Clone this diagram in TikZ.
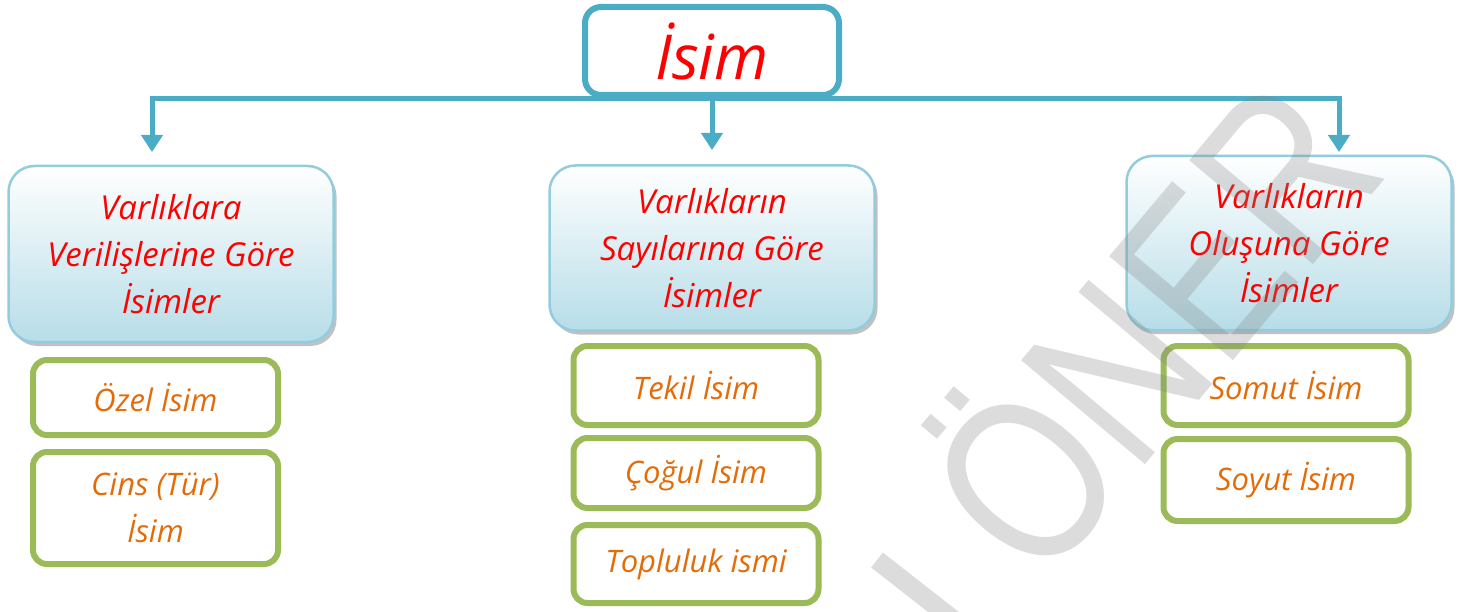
\documentclass[tikz,border=0pt]{standalone}
\usepackage{fontspec}
\setmainfont{Open Sans}
\newfontfamily\wmfont[FakeStretch=0.8]{Liberation Sans}
\usetikzlibrary{arrows.meta,shadows}
\definecolor{cblue}{HTML}{4BACC6}
\definecolor{catline}{HTML}{93CDDD}
\definecolor{catbot}{HTML}{B7DDE8}
\definecolor{igreen}{HTML}{9BBB59}
\definecolor{iorange}{HTML}{E36C09}
\definecolor{hred}{HTML}{FF0000}
\definecolor{wmgray}{HTML}{808080}
\begin{document}
\begin{tikzpicture}[x=1pt,y=-1pt,
  topbox/.style={draw=cblue, line width=6pt, rounded corners=16pt, fill=white,
    minimum width=254pt, minimum height=88pt, text=hred,
    font=\fontsize{62}{66}\selectfont\itshape},
  catbox/.style={draw=catline, line width=2.5pt, rounded corners=26pt,
    top color=white, bottom color=catbot, minimum width=325pt, align=center,
    drop shadow={shadow xshift=3pt, shadow yshift=-4pt, fill=black!40, opacity=.6},
    text=hred, font=\fontsize{33}{47}\selectfont\itshape},
  itembox/.style={draw=igreen, line width=6pt, rounded corners=14pt, fill=white,
    minimum width=245pt, align=center, text=iorange,
    font=\fontsize{31}{47}\selectfont\itshape},
  arr/.style={draw=cblue, line width=5pt, -{Triangle[width=21pt,length=17pt]}},
  wm/.style={text=wmgray, text opacity=0.27, font=\fontsize{235}{235}\selectfont\wmfont},
  wmline/.style={draw=wmgray, draw opacity=0.27, line width=19pt}
]
\useasboundingbox (0,0) rectangle (1464,612);
\fill[white] (0,0) rectangle (1464,612);

% top node
\node[topbox] (top) at (712,51) {İsim};

% category nodes
\node[catbox, minimum height=176pt] (c1) at (171,254) {Varlıklara\\Verilişlerine Göre\\İsimler};
\node[catbox, minimum height=165pt] (c2) at (712,248) {Varlıkların\\Sayılarına Göre\\İsimler};
\node[catbox, minimum height=174pt] (c3) at (1289,243) {Varlıkların\\Oluşuna Göre\\İsimler};

% connectors
\coordinate (hub) at (712,99);
\coordinate (a1) at (152,152);
\coordinate (a2) at (712,150);
\coordinate (a3) at (1339,152);
\draw[arr] (hub) -| (a1);
\draw[arr] (hub) -- (a2);
\draw[arr] (hub) -| (a3);

% item nodes
\node[itembox, minimum height=75pt] (i11) at (155.5,397.5) {Özel İsim};
\node[itembox, minimum height=112pt] (i12) at (155.5,508) {Cins (Tür)\\İsim};
\node[itembox, minimum height=79pt] (i21) at (696,385.5) {Tekil İsim};
\node[itembox, minimum height=70pt] (i22) at (696,473) {Çoğul İsim};
\node[itembox, minimum height=78pt] (i23) at (696,564) {Topluluk ismi};
\node[itembox, minimum height=79pt] (i31) at (1286,385.5) {Somut İsim};
\node[itembox, minimum height=82pt] (i32) at (1286,480) {Soyut İsim};

% watermark
\node[wm, rotate=50] (wmtext) at (1142,318) {ÖNER};
\draw[wmline] (877,560) -- (960,625);
\end{tikzpicture}
\end{document}
